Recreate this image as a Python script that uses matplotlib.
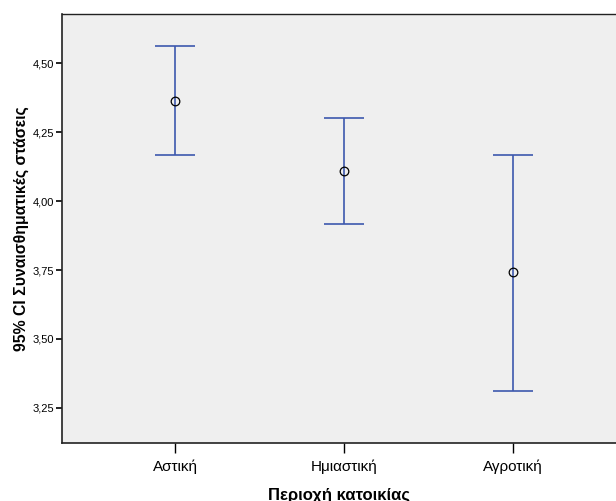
import numpy as np
import matplotlib
matplotlib.use("Agg")
import matplotlib.pyplot as plt
from matplotlib.ticker import FuncFormatter

plt.rcParams["font.family"] = ["Liberation Sans", "DejaVu Sans"]

# Data (95% CI per category)
categories = ["Αστική", "Ημιαστική", "Αγροτική"]
means = [4.362, 4.109, 3.743]
ci_low = [4.167, 3.917, 3.312]
ci_high = [4.562, 4.301, 4.167]
y_ticks = [3.25, 3.50, 3.75, 4.00, 4.25, 4.50]

fig = plt.figure(figsize=(6.16, 5.01), dpi=100)
ax = fig.add_axes([62 / 616, 58 / 501, 1 - 62 / 616, 429 / 501])
ax.set_facecolor("#efefef")

x = np.arange(len(categories))
m = np.array(means)
yerr = np.vstack([m - np.array(ci_low), np.array(ci_high) - m])
ax.errorbar(x, m, yerr=yerr, fmt="none", ecolor="#3d58ae", elinewidth=1.2,
            capsize=14.4, capthick=1.2, zorder=2)
ax.plot(x, m, linestyle="none", marker="o", markersize=6.2,
        markerfacecolor="none", markeredgecolor="black", markeredgewidth=0.9, zorder=3)

ax.set_xlim(-0.669, 2.61)
ax.set_ylim(3.123, 4.678)
ax.set_xticks(x)
ax.set_xticklabels(categories, fontsize=11)
ax.set_yticks(y_ticks)
ax.yaxis.set_major_formatter(FuncFormatter(lambda v, p: f"{v:.2f}".replace(".", ",")))
ax.tick_params(axis="y", labelsize=8, length=4, width=1.2, pad=1.5)
ax.tick_params(axis="x", length=7.5, width=1, pad=4.5)

for s in ["left", "bottom", "top"]:
    ax.spines[s].set_color("#222222")
ax.spines["left"].set_linewidth(1.2)
ax.spines["bottom"].set_linewidth(1.2)
ax.spines["top"].set_linewidth(1.0)
ax.spines["right"].set_visible(False)

ax.set_xlabel("Περιοχή κατοικίας", fontsize=12, fontweight="bold", labelpad=9.5)
ax.set_ylabel("95% CI Συναισθηματικές στάσεις", fontsize=11.4, fontweight="bold", labelpad=2.5)

fig.savefig("out.png", dpi=100)
